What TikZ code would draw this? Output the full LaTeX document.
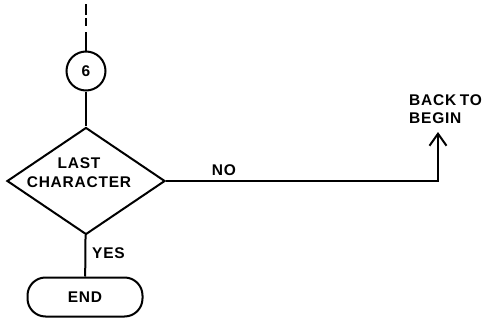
\documentclass[tikz,border=0pt]{standalone}
\usepackage{fontspec}
\setmainfont{Liberation Sans}[LetterSpace=5,WordSpace=0.7]
\usetikzlibrary{shapes.geometric,arrows.meta}
\begin{document}
\begin{tikzpicture}[x=1pt,y=-1pt,
  every node/.style={font=\bfseries\fontsize{15.5}{19}\selectfont},
  flow/.style={line width=2pt},
  conn/.style={draw,circle,line width=2pt,minimum size=39pt,inner sep=0pt},
  decision/.style={draw,diamond,line width=2pt,minimum width=158pt,minimum height=107pt,aspect=1.48,inner sep=0pt},
  term/.style={draw,rectangle,rounded corners=18pt,line width=2pt,minimum width=115pt,minimum height=39pt,inner sep=0pt},
  lbl/.style={inner sep=0pt}]
\useasboundingbox (0,0) rectangle (485,324);
\coordinate (top) at (86,4);
\node[conn] (c6) at (86,71) {6};
\node[decision] (d) at (86,181) {};
\node[lbl,align=center] (dtext) at (79,173) {LAST\\CHARACTER};
\node[term] (end) at (85,297) {END};
\node[lbl,anchor=west] (yes) at (92,253) {YES};
\node[lbl] (no) at (224,170) {NO};
\node[lbl,anchor=west,align=left,font=\bfseries\fontsize{15.5}{17.5}\selectfont] (back) at (409,109) {BACK TO\\BEGIN};
\coordinate (tip) at (438,132);
\draw[flow,dash pattern=on 11pt off 3pt on 8pt off 6pt on 60pt off 0pt] (top) -- (c6.north);
\draw[flow] (c6) -- (d);
\draw[flow] (d) -- (end);
\draw[flow,-{Straight Barb[length=12pt,width=17pt]}] (d.east) -- (d.east -| tip) -- (tip);
\end{tikzpicture}
\end{document}
